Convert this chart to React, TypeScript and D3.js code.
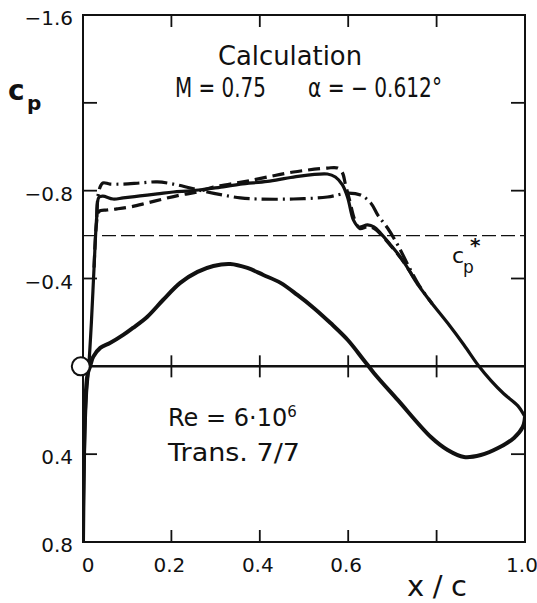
import * as d3 from "d3";

// x/c ticks and labels (0.8 label is left out, "x/c" sits there)
const xTicks = [0, 0.2, 0.4, 0.6, 0.8, 1.0];
const xTickLabels = ["0", "0.2", "0.4", "0.6", "", "1.0"];
// cp ticks, axis reversed (suction up)
const yTicks = [-1.6, -1.2, -0.8, -0.4, 0, 0.4, 0.8];
const yTickLabels = ["−1.6", "", "−0.8", "−0.4", "", "0.4", "0.8"];

const cpStar = -0.595;

// lower surface, thick solid
const lowerSolid: [number, number][] = [
  [0.0, 0.8], [0.002, 0.45], [0.005, 0.18], [0.01, 0.04], [0.016, 0.0],
  [0.023, -0.043], [0.039, -0.084], [0.061, -0.106], [0.091, -0.143],
  [0.113, -0.175], [0.145, -0.225], [0.181, -0.302], [0.22, -0.38],
  [0.259, -0.43], [0.295, -0.457], [0.333, -0.466], [0.372, -0.448],
  [0.408, -0.416], [0.447, -0.38], [0.485, -0.325], [0.522, -0.266],
  [0.56, -0.197], [0.599, -0.12], [0.635, -0.029], [0.658, 0.03],
  [0.712, 0.153], [0.787, 0.322], [0.825, 0.381], [0.862, 0.413],
  [0.9, 0.404], [0.939, 0.372], [0.975, 0.326], [0.995, 0.276], [1.0, 0.23],
];

// upper surface, solid
const upperSolid: [number, number][] = [
  [0.0, 0.8], [0.003, 0.4], [0.008, 0.12], [0.013, 0.0], [0.019, -0.2],
  [0.025, -0.45], [0.031, -0.68], [0.036, -0.77], [0.045, -0.775],
  [0.068, -0.762], [0.091, -0.767], [0.129, -0.776], [0.168, -0.785],
  [0.204, -0.794], [0.243, -0.799], [0.281, -0.808], [0.317, -0.817],
  [0.356, -0.83], [0.417, -0.842], [0.476, -0.862], [0.553, -0.876],
  [0.571, -0.862], [0.587, -0.826], [0.599, -0.767], [0.612, -0.666],
  [0.624, -0.635], [0.644, -0.644], [0.658, -0.635], [0.673, -0.607],
  [0.696, -0.553], [0.719, -0.495], [0.737, -0.44], [0.755, -0.38],
  [0.787, -0.293], [0.825, -0.197], [0.862, -0.097], [0.894, -0.005],
  [0.923, 0.065], [0.952, 0.125], [0.984, 0.18], [1.0, 0.23],
];

// upper surface, dashed
const upperDashed: [number, number][] = [
  [0.025, -0.45], [0.031, -0.66], [0.036, -0.705], [0.054, -0.712],
  [0.077, -0.717], [0.107, -0.726], [0.145, -0.744], [0.181, -0.762],
  [0.22, -0.78], [0.259, -0.794], [0.295, -0.817], [0.333, -0.83],
  [0.372, -0.844], [0.417, -0.862], [0.476, -0.885], [0.553, -0.903],
  [0.576, -0.903], [0.587, -0.881], [0.594, -0.826], [0.603, -0.758],
  [0.615, -0.666], [0.626, -0.628], [0.644, -0.636], [0.66, -0.626],
  [0.675, -0.598], [0.698, -0.545], [0.721, -0.487], [0.74, -0.43],
  [0.758, -0.372],
];

// upper surface, dash-dot
const upperDashDot: [number, number][] = [
  [0.031, -0.68], [0.036, -0.8], [0.045, -0.835], [0.061, -0.83],
  [0.091, -0.83], [0.129, -0.835], [0.168, -0.84], [0.204, -0.83],
  [0.243, -0.812], [0.281, -0.794], [0.317, -0.78], [0.356, -0.767],
  [0.395, -0.762], [0.476, -0.762], [0.553, -0.771], [0.599, -0.789],
  [0.628, -0.78], [0.651, -0.744], [0.667, -0.689], [0.689, -0.63],
  [0.712, -0.553], [0.735, -0.462], [0.76, -0.37], [0.79, -0.285],
];

export default function App() {
  const W = 537, H = 603;
  const left = 83, right = 525, top = 15, bottom = 542;

  const x = d3.scaleLinear().domain([0, 1]).range([left, right]);
  const y = d3.scaleLinear().domain([-1.6, 0.8]).range([top, bottom]);

  const line = d3.line<[number, number]>()
    .x(d => x(d[0]))
    .y(d => y(d[1]))
    .curve(d3.curveCatmullRom.alpha(0.5));

  const font = "'DejaVu Sans', sans-serif";
  const sideTicks = yTicks.filter(v => v !== -1.6 && v !== 0.8 && v !== 0);
  const innerX = xTicks.filter(v => v > 0 && v < 1);

  return (
    <svg width={W} height={H} style={{ position: "absolute", left: 0, top: 0, background: "#fff" }}
      fontFamily={font}>
      <defs>
        <clipPath id="plot">
          <rect x={left} y={top} width={right - left} height={bottom - top} />
        </clipPath>
      </defs>

      {/* frame */}
      <rect x={left} y={top} width={right - left} height={bottom - top}
        fill="none" stroke="#111" strokeWidth={2} />

      {/* ticks */}
      {sideTicks.map(v => (
        <g key={"yt" + v} stroke="#111" strokeWidth={1.8}>
          <line x1={left} x2={left + 14} y1={y(v)} y2={y(v)} />
          <line x1={right} x2={right - 14} y1={y(v)} y2={y(v)} />
        </g>
      ))}
      {innerX.map(v => (
        <g key={"xt" + v} stroke="#111" strokeWidth={1.8}>
          <line x1={x(v)} x2={x(v)} y1={top} y2={top + 12} />
          <line x1={x(v)} x2={x(v)} y1={bottom} y2={bottom - 12} />
          <line x1={x(v)} x2={x(v)} y1={y(0) - 11} y2={y(0) + 11} />
        </g>
      ))}

      {/* zero line and sonic line */}
      <line x1={left} x2={right} y1={y(0)} y2={y(0)} stroke="#111" strokeWidth={2.5} />
      <line x1={left} x2={right} y1={y(cpStar)} y2={y(cpStar)} stroke="#111"
        strokeWidth={1.3} strokeDasharray="14,5" />

      {/* tick labels */}
      {yTicks.map((v, i) => yTickLabels[i] ? (
        <text key={"yl" + v} x={left - 10} y={y(v) + 3} textAnchor="end"
          dominantBaseline="central" fontSize={20} fill="#111">{yTickLabels[i]}</text>
      ) : null)}
      {xTicks.map((v, i) => xTickLabels[i] ? (
        <text key={"xl" + v} x={x(v) + (v === 0 ? 5 : v === 1 ? -3 : -2)} y={572}
          textAnchor="middle" fontSize={20} fill="#111">{xTickLabels[i]}</text>
      ) : null)}

      {/* curves */}
      <g clipPath="url(#plot)" fill="none" strokeLinejoin="round">
        <path d={line(lowerSolid) || ""} stroke="#111" strokeWidth={4} />
        <path d={line(upperSolid) || ""} stroke="#111" strokeWidth={3.2} />
        <path d={line(upperDashed) || ""} stroke="#111" strokeWidth={3.2} strokeDasharray="12,6" />
        <path d={line(upperDashDot) || ""} stroke="#111" strokeWidth={3.2} strokeDasharray="16,5,2,5" />
      </g>

      {/* stagnation marker */}
      <circle cx={x(-0.005)} cy={y(0)} r={9} fill="#fff" stroke="#111" strokeWidth={2} />

      {/* axis titles */}
      <text x={8} y={100} fontSize={28} fontWeight="bold" fill="#111">c</text>
      <text x={27} y={110} fontSize={20} fontWeight="bold" fill="#111">p</text>
      <text x={407} y={596} fontSize={29} fill="#111" textLength={60} lengthAdjust="spacing">x/c</text>

      <text x={452} y={263} fontSize={22} fill="#111">c</text>
      <text x={463} y={273} fontSize={17} fill="#111">p</text>
      <text x={470} y={252} fontSize={20} fontWeight="bold" fill="#111">*</text>

      {/* annotations */}
      <text x={218} y={65} fontSize={26} fill="#111" textLength={144} lengthAdjust="spacingAndGlyphs">Calculation</text>
      <text x={175} y={97} fontSize={26} fill="#111" textLength={91} lengthAdjust="spacingAndGlyphs">M = 0.75</text>
      <text x={308} y={97} fontSize={26} fill="#111" textLength={134} lengthAdjust="spacingAndGlyphs">α = − 0.612°</text>
      <text x={168} y={426} fontSize={24} fill="#111">
        Re = 6·10<tspan dy={-9} fontSize={15}>6</tspan>
      </text>
      <text x={168} y={461} fontSize={24} fill="#111" textLength={132} lengthAdjust="spacingAndGlyphs">Trans. 7/7</text>
    </svg>
  );
}
